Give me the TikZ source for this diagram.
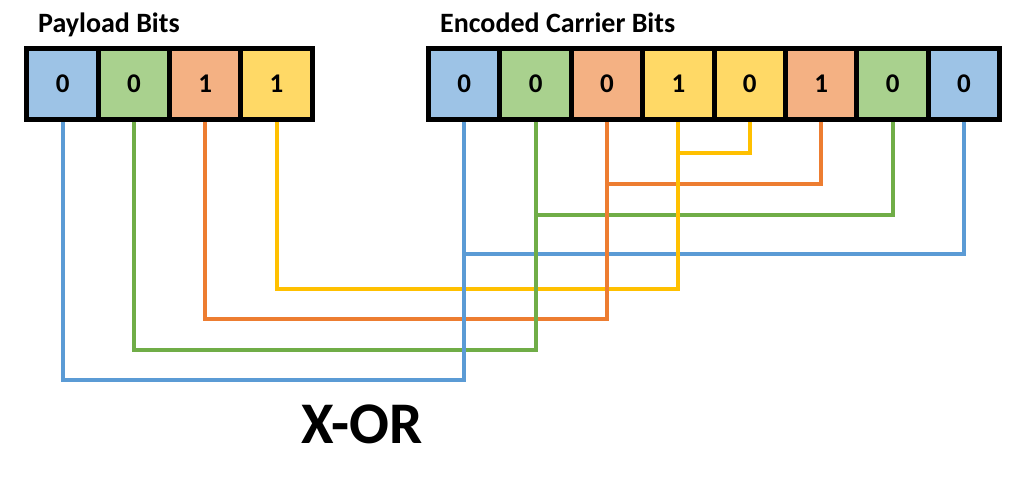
\documentclass[tikz,border=0pt]{standalone}
\usepackage{fontspec}
\setmainfont{Carlito}
\definecolor{fblue}{HTML}{9DC3E6}
\definecolor{fgreen}{HTML}{A9D18E}
\definecolor{forange}{HTML}{F4B183}
\definecolor{fyellow}{HTML}{FFD966}
\definecolor{lblue}{HTML}{5B9BD5}
\definecolor{lgreen}{HTML}{70AD47}
\definecolor{lorange}{HTML}{ED7D31}
\definecolor{lyellow}{HTML}{FFC000}
\pgfdeclarelayer{bg}
\pgfsetlayers{bg,main}
\begin{document}
\begin{tikzpicture}[x=1pt,y=-1pt,
  cell/.style={draw=black, line width=5pt, minimum width=71.4pt, minimum height=71pt,
    inner sep=0pt, font=\fontsize{27}{27}\selectfont\bfseries},
  title/.style={anchor=base west, inner sep=0pt, font=\fontsize{28}{28}\selectfont\bfseries},
  wire/.style={line width=4pt, line join=miter}]
\useasboundingbox (0,0) rectangle (1019,483);
% payload cells
\node[cell, fill=fblue]   (p1) at (62.65,84) {0};
\node[cell, fill=fgreen]  (p2) at (133.95,84) {0};
\node[cell, fill=forange] (p3) at (205.25,84) {1};
\node[cell, fill=fyellow] (p4) at (276.55,84) {1};
% carrier cells
\node[cell, fill=fblue]   (c1) at (464.2,84) {0};
\node[cell, fill=fgreen]  (c2) at (535.6,84) {0};
\node[cell, fill=forange] (c3) at (607,84) {0};
\node[cell, fill=fyellow] (c4) at (678.4,84) {1};
\node[cell, fill=fyellow] (c5) at (749.8,84) {0};
\node[cell, fill=forange] (c6) at (821.2,84) {1};
\node[cell, fill=fgreen]  (c7) at (892.6,84) {0};
\node[cell, fill=fblue]   (c8) at (964,84) {0};
% titles
\node[title] (tp) at (38,32) {Payload Bits};
\node[title] (tc) at (440,32) {Encoded Carrier Bits};
\node[anchor=base, inner sep=0pt, font=\fontsize{59}{59}\selectfont\bfseries] (xor) at (362,443) {X-OR};
% wires
\begin{pgfonlayer}{bg}
\draw[wire, lyellow] (c4.south) -- ++(0,30.5) -| (c5.south);
\draw[wire, lorange] (c3.south) -- ++(0,61.5) -| (c6.south);
\draw[wire, lgreen]  (c2.south) -- ++(0,92.5) -| (c7.south);
\draw[wire, lblue]   (c1.south) -- ++(0,131.5) -| (c8.south);
\draw[wire, lyellow] (p4.south) -- ++(0,166.5) -| (c4.south);
\draw[wire, lorange] (p3.south) -- ++(0,196.5) -| (c3.south);
\draw[wire, lgreen]  (p2.south) -- ++(0,227.5) -| (c2.south);
\draw[wire, lblue]   (p1.south) -- ++(0,257.5) -| (c1.south);
\end{pgfonlayer}
\end{tikzpicture}
\end{document}
